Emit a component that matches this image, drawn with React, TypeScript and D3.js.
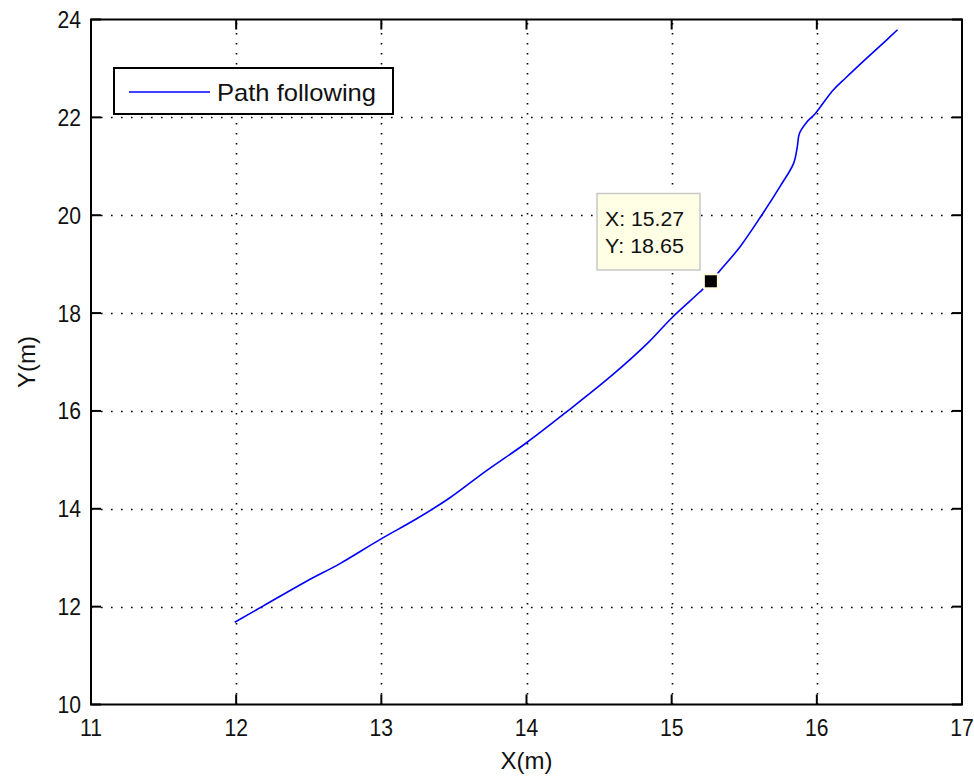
import React, { useEffect, useRef } from 'react';
import * as d3 from 'd3';

const pathX = [11.99, 12.19, 12.485, 12.715, 12.99, 13.24, 13.47, 13.72, 14.0, 14.28, 14.59, 14.84, 15.0, 15.19, 15.27, 15.355, 15.47, 15.62, 15.745, 15.84, 15.865, 15.88, 15.93, 15.99, 16.11, 16.2, 16.34, 16.48, 16.556];
const pathY = [11.68, 12.02, 12.52, 12.88, 13.37, 13.79, 14.22, 14.77, 15.35, 15.99, 16.73, 17.4, 17.9, 18.42, 18.65, 18.945, 19.35, 20.0, 20.58, 21.06, 21.39, 21.67, 21.9, 22.08, 22.55, 22.81, 23.2, 23.58, 23.79];
const xTicks = [11, 12, 13, 14, 15, 16, 17];
const yTicks = [10, 12, 14, 16, 18, 20, 22, 24];
const legendLabel = 'Path following';
const tipPoint = [15.27, 18.65];

const W = 974, H = 776;
const L = 91, R = 962, T = 19.5, B = 704.5;
const FONT = '"Liberation Sans", Arial, sans-serif';

export default function App() {
  const ref = useRef<SVGSVGElement>(null);

  useEffect(() => {
    const svg = d3.select(ref.current);
    svg.selectAll('*').remove();

    const x = d3.scaleLinear().domain([11, 17]).range([L, R]);
    const y = d3.scaleLinear().domain([10, 24]).range([B, T]);

    svg.append('rect').attr('width', W).attr('height', H).attr('fill', '#fff');

    // dotted grid
    const grid = svg.append('g').attr('stroke', '#000').attr('stroke-width', 1.6)
      .attr('stroke-dasharray', '1.6 8.4');
    grid.selectAll('.gx').data(xTicks.slice(1, -1)).enter().append('line')
      .attr('x1', d => Math.round(x(d)) + 0.5).attr('x2', d => Math.round(x(d)) + 0.5)
      .attr('y1', B).attr('y2', T);
    grid.selectAll('.gy').data(yTicks.slice(1, -1)).enter().append('line')
      .attr('y1', d => Math.round(y(d)) + 0.5).attr('y2', d => Math.round(y(d)) + 0.5)
      .attr('x1', L).attr('x2', R);

    // box + inward ticks
    const ax = svg.append('g').attr('stroke', '#000').attr('stroke-width', 2);
    ax.append('rect').attr('x', L).attr('y', T).attr('width', R - L).attr('height', B - T)
      .attr('fill', 'none');
    xTicks.forEach(t => {
      ax.append('line').attr('x1', x(t)).attr('x2', x(t)).attr('y1', B).attr('y2', B - 10);
      ax.append('line').attr('x1', x(t)).attr('x2', x(t)).attr('y1', T).attr('y2', T + 10);
    });
    yTicks.forEach(t => {
      ax.append('line').attr('y1', y(t)).attr('y2', y(t)).attr('x1', L).attr('x2', L + 10);
      ax.append('line').attr('y1', y(t)).attr('y2', y(t)).attr('x1', R).attr('x2', R - 10);
    });

    const labels = svg.append('g').attr('font-family', FONT).attr('font-size', 23).attr('fill', '#111');
    labels.selectAll('.xl').data(xTicks).enter().append('text')
      .attr('transform', d => `translate(${x(d)},${B + 31}) scale(0.92,1)`)
      .attr('text-anchor', 'middle').text(d => d);
    labels.selectAll('.yl').data(yTicks).enter().append('text')
      .attr('transform', d => `translate(${L - 10},${y(d) + 8.5}) scale(0.92,1)`)
      .attr('text-anchor', 'end').text(d => d);
    labels.append('text').attr('x', (L + R) / 2).attr('y', 769).attr('font-size', 24)
      .attr('text-anchor', 'middle').text('X(m)');
    labels.append('text').attr('transform', `translate(35,${(T + B) / 2}) rotate(-90)`)
      .attr('font-size', 24).attr('text-anchor', 'middle').text('Y(m)');

    // path
    const line = d3.line<number>().x(i => x(pathX[i])).y(i => y(pathY[i])).curve(d3.curveCatmullRom);
    svg.append('path').attr('d', line(d3.range(pathX.length)))
      .attr('fill', 'none').attr('stroke', '#0000ff').attr('stroke-width', 1.6);

    // legend
    const lg = svg.append('g');
    lg.append('rect').attr('x', 114).attr('y', 68).attr('width', 279).attr('height', 46)
      .attr('fill', '#fff').attr('stroke', '#000').attr('stroke-width', 2);
    lg.append('line').attr('x1', 129).attr('x2', 210).attr('y1', 92).attr('y2', 92)
      .attr('stroke', '#0000ff').attr('stroke-width', 1.6);
    lg.append('text').attr('x', 217).attr('y', 101).attr('font-family', FONT).attr('font-size', 24)
      .attr('textLength', 159).attr('lengthAdjust', 'spacingAndGlyphs')
      .attr('fill', '#111').text(legendLabel);

    // data tip
    const tx = x(tipPoint[0]), ty = y(tipPoint[1]);
    svg.append('rect').attr('x', tx - 8).attr('y', ty - 8).attr('width', 16).attr('height', 16)
      .attr('fill', '#ffffe0');
    svg.append('rect').attr('x', tx - 6).attr('y', ty - 6).attr('width', 12).attr('height', 12)
      .attr('fill', '#000');
    const tip = svg.append('g');
    tip.append('rect').attr('x', 597).attr('y', 193.5).attr('width', 103).attr('height', 76.5)
      .attr('fill', '#ffffe6').attr('stroke', '#c8c8c8').attr('stroke-width', 1.5);
    tip.append('text').attr('x', 605).attr('y', 226).attr('font-family', FONT).attr('font-size', 20)
      .attr('textLength', 79).attr('lengthAdjust', 'spacingAndGlyphs')
      .attr('fill', '#111').text(`X: ${tipPoint[0].toFixed(2)}`);
    tip.append('text').attr('x', 605).attr('y', 253).attr('font-family', FONT).attr('font-size', 20)
      .attr('textLength', 79).attr('lengthAdjust', 'spacingAndGlyphs')
      .attr('fill', '#111').text(`Y: ${tipPoint[1].toFixed(2)}`);
  }, []);

  return (
    <div style={{ position: 'absolute', left: 0, top: 0 }}>
      <svg ref={ref} width={W} height={H} />
    </div>
  );
}
